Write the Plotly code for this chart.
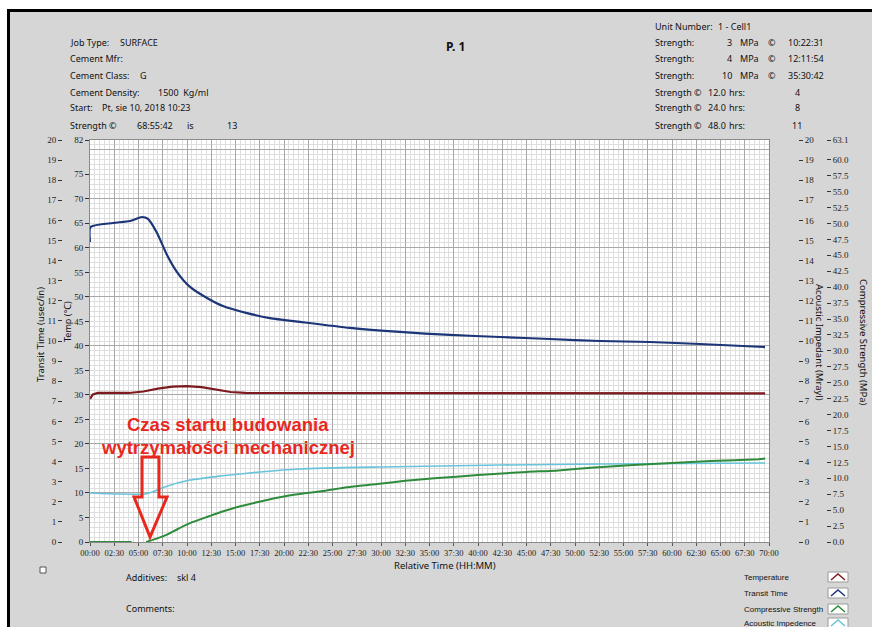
import plotly.graph_objects as go

W, H = 872, 627
ML, MR, MT, MB = 20, 10, 140, 85

# ---- test log (time in hours from start) ----
transit_t = [0.0, 0.05, 2.37, 4.12, 5.36, 5.98, 6.91, 7.94, 8.97, 10.31, 12.06, 13.71,
             16.19, 18.56, 21.65, 26.8, 31.96, 37.11, 42.27, 47.42, 52.58, 57.73, 62.89, 69.59]
transit = [14.93, 15.67, 15.87, 15.97, 16.17, 16.07, 15.37, 14.28, 13.43, 12.69, 12.14, 11.74,
           11.39, 11.14, 10.95, 10.65, 10.45, 10.30, 10.20, 10.10, 10.00, 9.95, 9.85, 9.70]

temp_t = [0.0, 0.3, 0.8, 4.0, 5.5, 7.0, 8.5, 10.0, 11.5, 13.0, 14.5, 16.0, 69.6]
temp = [29.2, 30.1, 30.4, 30.4, 30.7, 31.3, 31.7, 31.8, 31.6, 31.1, 30.6, 30.4, 30.3]

acoustic_t = [0.0, 3.0, 5.7, 6.7, 7.7, 10.3, 13.4, 17.5, 21.6, 29.9, 42.3, 52.6, 69.6]
acoustic = [2.44, 2.39, 2.39, 2.54, 2.74, 3.08, 3.28, 3.48, 3.63, 3.73, 3.83, 3.88, 3.93]

strength_t = [0.0, 4.3, None, 5.8, 7.0, 8.0, 9.0, 10.37, 12.2, 13.5, 15.5, 18.25, 21.0, 24.0,
              26.5, 29.6, 32.5, 35.5, 40.0, 45.0, 48.0, 52.0, 56.0, 60.0, 64.0, 68.9, 69.6]
strength = [0.0, 0.0, None, 0.0, 0.6, 1.2, 2.0, 3.0, 4.0, 4.7, 5.6, 6.6, 7.4, 8.0,
            8.6, 9.1, 9.6, 10.0, 10.5, 11.0, 11.2, 11.7, 12.1, 12.4, 12.7, 13.0, 13.1]

x_ticks = [i * 2.5 for i in range(29)]
x_labels = ["%02d:%02d" % (int(v), round((v % 1) * 60)) for v in x_ticks]
temp_ticks = list(range(0, 85, 5))[:-1] + [82]
cs_ticks = [i * 2.5 for i in range(25)] + [63.1]

C_TEMP = "#7d1a1f"
C_TRANSIT = "#1c3578"
C_CS = "#2e8b3b"
C_AI = "#68c3dc"
C_RED = "#e8281e"
BG = "#d6d6d6"

TICKFONT = dict(family="Liberation Serif", size=9, color="#222")
TXT = dict(family="Noto Sans", size=9, color="#111")


def pp(x, y):
    """pixel position -> paper coordinates"""
    return (x - ML) / (W - ML - MR), (H - MB - y) / (H - MT - MB)


x0, _ = pp(90, 0)
x1, _ = pp(769, 0)

fig = go.Figure()

# grid-only base axis
fig.add_trace(go.Scatter(x=[], y=[], yaxis="y", showlegend=False, hoverinfo="skip"))
fig.add_trace(go.Scatter(x=temp_t, y=temp, yaxis="y3", mode="lines",
                         line=dict(color=C_TEMP, width=2.2), name="Temperature"))
fig.add_trace(go.Scatter(x=transit_t, y=transit, yaxis="y2", mode="lines",
                         line=dict(color=C_TRANSIT, width=2.2, shape="spline", smoothing=0.6),
                         name="Transit Time"))
fig.add_trace(go.Scatter(x=acoustic_t, y=acoustic, yaxis="y4", mode="lines",
                         line=dict(color=C_AI, width=1.6, shape="spline", smoothing=0.6),
                         name="Acoustic Impedence"))
fig.add_trace(go.Scatter(x=strength_t, y=strength, yaxis="y5", mode="lines", connectgaps=False,
                         line=dict(color=C_CS, width=2, shape="spline", smoothing=0.5),
                         name="Compressive Strength"))

common = dict(automargin=False, zeroline=False)
fig.update_layout(
    width=W, height=H,
    margin=dict(l=ML, r=MR, t=MT, b=MB, pad=0, autoexpand=False),
    paper_bgcolor=BG, plot_bgcolor="white",
    showlegend=False,
    xaxis=dict(domain=[x0, x1], range=[0, 70], tickvals=x_ticks, ticktext=x_labels,
               tickfont=dict(family="Liberation Serif", size=8.5, color="#222"),
               ticks="outside", ticklen=3, tickcolor="#555",
               showline=True, linecolor="#8a8a8a", mirror=True,
               showgrid=True, gridcolor="#a8a8a8", gridwidth=1,
               minor=dict(dtick=0.5, tick0=0, showgrid=True, gridcolor="#dedede", ticks=""),
               **common),
    yaxis=dict(range=[0, 82], showticklabels=False, ticks="", dtick=10, tick0=0,
               showgrid=True, gridcolor="#a8a8a8",
               minor=dict(dtick=1, tick0=0, showgrid=True, gridcolor="#dedede"),
               showline=True, linecolor="#8a8a8a", mirror=True, **common),
    yaxis2=dict(range=[0, 20], overlaying="y", anchor="free", position=pp(62, 0)[0],
                side="left", dtick=1, tickfont=TICKFONT, ticks="outside", ticklen=4,
                tickcolor="#333", showgrid=False, showline=False, **common),
    yaxis3=dict(range=[0, 82], overlaying="y", anchor="x", side="left",
                tickvals=temp_ticks, tickfont=TICKFONT, ticks="outside", ticklen=4,
                tickcolor="#333", showgrid=False, **common),
    yaxis4=dict(range=[0, 20], overlaying="y", anchor="free", position=pp(798, 0)[0],
                side="right", dtick=1, tickfont=TICKFONT, ticks="outside", ticklen=4,
                tickcolor="#333", showgrid=False, showline=False, **common),
    yaxis5=dict(range=[0, 63.1], overlaying="y", anchor="free", position=pp(826, 0)[0],
                side="right", tickvals=cs_ticks, ticktext=["%.1f" % v for v in cs_ticks],
                tickfont=TICKFONT, ticks="outside", ticklen=4,
                tickcolor="#333", showgrid=False, showline=False, **common),
)

ann = []


def text(x, y, s, anchor="left", **font):
    f = dict(TXT)
    f.update(font)
    px_, py_ = pp(x, y)
    ann.append(dict(x=px_, y=py_, xref="paper", yref="paper", text=s, showarrow=False,
                    xanchor=anchor, yanchor="middle", font=f))


# header, left block
rows = [43, 59, 75, 92, 108, 125]
text(68, rows[0], "Job Type:")
text(118, rows[0], "SURFACE")
text(68, rows[1], "Cement Mfr:")
text(68, rows[2], "Cement Class:")
text(138, rows[2], "G")
text(68, rows[3], "Cement Density:")
text(156, rows[3], "1500  Kg/ml")
text(68, rows[4], "Start:")
text(100, rows[4], "Pt, sie 10, 2018 10:23")
text(68, rows[5], "Strength ©")
text(135, rows[5], "68:55:42")
text(185, rows[5], "is")
text(225, rows[5], "13")

# title
text(455, 46, "<b>P. 1</b>", anchor="center", size=12)

# header, right block
text(653, 26, "Unit Number:")
text(716, 26, "1 - Cell1")
for y, val, tm in [(43, "3", "10:22:31"), (59, "4", "12:11:54"), (75, "10", "35:30:42")]:
    text(653, y, "Strength:")
    text(734, y, val, anchor="right")
    text(738, y, "MPa")
    text(766, y, "©")
    text(786, y, tm)
for y, hrs, val in [(92, "12.0", "4"), (108, "24.0", "8"), (125, "48.0", "11")]:
    text(653, y, "Strength ©")
    text(706, y, hrs)
    text(727, y, "hrs:")
    text(797, y, val, anchor="center")

# axis titles
for x, y, s, ang, sz in [(40, 335, "Transit Time (usec/in)", -90, 9.5),
                         (67, 322, "Temp (°C)", -90, 9),
                         (820, 342, "Acoustic Impedant (Mrayl)", 90, 9.5),
                         (864, 342, "Compressive Strength (MPa)", 90, 9.5)]:
    px_, py_ = pp(x, y)
    ann.append(dict(x=px_, y=py_, xref="paper", yref="paper", text=s, showarrow=False,
                    textangle=ang, xanchor="center", yanchor="middle",
                    font=dict(family="Noto Sans", size=sz, color="#111")))
text(445, 565, "Relative Time (HH:MM)", anchor="center", size=9.5)

# bottom block
text(124, 577, "Additives:")
text(175, 577, "skl 4")
text(124, 608, "Comments:")

# legend
legend_rows = [("Temperature", C_TEMP, 577), ("Transit Time", C_TRANSIT, 593),
               ("Compressive Strength", C_CS, 609), ("Acoustic Impedence", C_AI, 623)]
shapes = []
for name, col, y in legend_rows:
    text(742, y, name, family="Liberation Sans", size=8)
    bx0, by0 = pp(828, y - 5)
    bx1, by1 = pp(848, y + 5)
    shapes.append(dict(type="rect", xref="paper", yref="paper", x0=bx0, x1=bx1, y0=by1, y1=by0,
                       line=dict(color="#9a9a9a", width=1), fillcolor="white"))
    a = pp(831, y + 3)
    b = pp(838, y - 3)
    c = pp(845, y + 3)
    shapes.append(dict(type="path", xref="paper", yref="paper",
                       path="M %f,%f L %f,%f L %f,%f" % (a[0], a[1], b[0], b[1], c[0], c[1]),
                       line=dict(color=col, width=1.5)))

# checkbox
cb0 = pp(40, 567)
cb1 = pp(46, 573)
shapes.append(dict(type="rect", xref="paper", yref="paper", x0=cb0[0], x1=cb1[0], y0=cb1[1], y1=cb0[1],
                   line=dict(color="#555", width=1), fillcolor="white"))

# page frame: white margin and black border at top and left
t0 = pp(0, 0)
t1 = pp(W, 9)
shapes.append(dict(type="rect", xref="paper", yref="paper", x0=t0[0], x1=t1[0], y0=t1[1], y1=t0[1],
                   line=dict(width=0), fillcolor="white"))
l0 = pp(0, 0)
l1 = pp(7, H)
shapes.append(dict(type="rect", xref="paper", yref="paper", x0=l0[0], x1=l1[0], y0=l1[1], y1=l0[1],
                   line=dict(width=0), fillcolor="white"))
f0 = pp(8.5, H + 20)
f1 = pp(8.5, 10.5)
f2 = pp(W + 20, 10.5)
shapes.append(dict(type="path", xref="paper", yref="paper",
                   path="M %f,%f L %f,%f L %f,%f" % (f0[0], f0[1], f1[0], f1[1], f2[0], f2[1]),
                   line=dict(color="black", width=3)))

# callout: start of strength development
for yy, s in [(424, "<b>Czas startu budowania</b>"), (447, "<b>wytrzymałości mechanicznej</b>")]:
    ann.append(dict(x=pp(228, yy)[0], y=pp(228, yy)[1], xref="paper", yref="paper",
                    text=s, showarrow=False, xanchor="center", yanchor="middle",
                    font=dict(family="Liberation Sans", size=18.5, color=C_RED)))
arrow = [(5.36, 4.23), (7.11, 4.23), (7.11, 2.24), (7.94, 2.24), (6.19, 0.25),
         (4.54, 2.24), (5.36, 2.24)]
path = "M " + " L ".join("%f,%f" % p for p in arrow) + " Z"
shapes.append(dict(type="path", xref="x", yref="y2", path=path,
                   line=dict(color=C_RED, width=3), fillcolor="rgba(0,0,0,0)"))

fig.update_layout(annotations=ann, shapes=shapes)
fig.write_html("out.html")
